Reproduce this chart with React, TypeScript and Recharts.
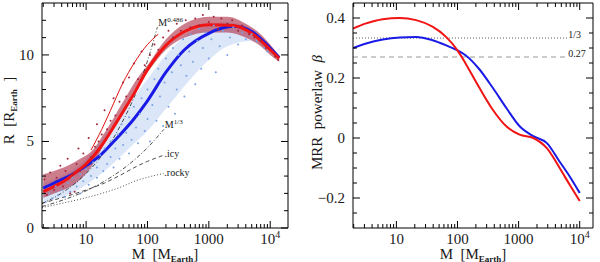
import React from 'react';
import { ComposedChart, Line, Area, Scatter, XAxis, YAxis, ReferenceDot, Label } from 'recharts';

// axis ticks
const massTicks = [2, 3, 4, 5, 6, 7, 8, 9, 10, 20, 30, 40, 50, 60, 70, 80, 90, 100, 200, 300, 400, 500, 600, 700, 800, 900, 1000, 2000, 3000, 4000, 5000, 6000, 7000, 8000, 9000, 10000];
const massMajor = [10, 100, 1000, 10000];
const radiusTicks = [0, 1, 2, 3, 4, 5, 6, 7, 8, 9, 10, 11, 12];
const radiusMajor = [0, 5, 10];
const betaTicks = [-0.25, -0.2, -0.15, -0.1, -0.05, 0, 0.05, 0.1, 0.15, 0.2, 0.25, 0.3, 0.35, 0.4];
const betaMajor = [-0.2, 0, 0.2, 0.4];

// left panel: fitted mass-radius curves [M, R]
const redFit = [[2, 2.1], [3, 2.4], [5, 2.85], [7, 3.25], [10, 3.7], [17, 4.65], [30, 6.0], [60, 7.75], [100, 9.15], [200, 10.55], [400, 11.35], [1000, 11.75], [2500, 11.7], [5000, 11.25], [10000, 10.3], [14000, 9.8]];
const blueFit = [[2, 2.3], [3, 2.6], [5, 2.95], [7, 3.25], [10, 3.6], [17, 4.2], [30, 5.1], [60, 6.3], [100, 7.35], [200, 9.0], [400, 10.3], [1000, 11.25], [2500, 11.65], [5000, 11.35], [10000, 10.4], [14000, 9.85]];
const redThin = [[12, 4.5], [18, 5.7], [25, 6.8], [40, 8.4], [60, 9.5], [100, 10.6], [150, 11.2]];

// dense part of the simulated populations [M, low R, high R]
const blueCore = [[2, 1.5, 2.6], [5, 1.9, 3.2], [10, 2.5, 4.0], [20, 3.3, 5.3], [50, 4.6, 7.2], [100, 5.6, 8.6], [200, 6.9, 10.0], [500, 8.6, 11.3], [1000, 9.7, 11.7], [2000, 10.5, 11.9], [5000, 10.8, 11.5], [10000, 10.1, 10.5], [14000, 9.8, 9.9]];
const redCore = [[2, 1.75, 3.1], [3, 2.0, 3.3], [5, 2.3, 3.6], [8, 2.8, 4.0], [12, 3.5, 4.4], [20, 4.9, 5.5], [40, 6.8, 7.3], [70, 8.3, 8.7], [100, 9.0, 9.4], [200, 10.3, 10.9], [400, 11.0, 11.8], [1000, 11.3, 12.2], [2000, 11.3, 12.2], [4000, 11.0, 11.8], [7000, 10.5, 11.2], [10000, 10.0, 10.6], [14000, 9.6, 9.95]];

// scattered planets [M, R]
const blueDots = [[2.2, 1.5], [2.5, 2.0], [2.8, 1.7], [3.2, 2.4], [3.5, 1.9], [4, 2.2], [4.5, 1.8], [5, 2.6], [5.5, 2.1], [6, 2.9], [7, 2.4], [8, 2.0], [8, 3.1], [9, 2.7], [10, 3.4], [11, 2.5], [12, 3.0], [13, 3.8], [15, 2.9], [15, 3.5], [17, 4.2], [19, 3.3], [20, 4.6], [22, 3.7], [25, 4.1], [25, 5.0], [28, 3.5], [30, 4.6], [33, 5.4], [35, 4.0], [38, 6.0], [40, 4.8], [45, 5.5], [50, 4.3], [50, 6.4], [55, 5.1], [60, 7.0], [65, 5.8], [70, 4.9], [75, 6.6], [80, 7.5], [90, 5.6], [100, 6.3], [100, 8.0], [110, 5.0], [120, 7.1], [130, 8.6], [140, 6.2], [150, 9.2], [160, 7.6], [180, 5.9], [190, 8.4], [200, 9.8], [220, 7.0], [250, 9.0], [260, 10.4], [280, 6.6], [300, 8.0], [320, 10.0], [350, 9.4], [380, 10.9], [400, 7.6], [430, 8.8], [480, 10.2], [500, 11.2], [550, 9.6], [600, 8.3], [650, 10.8], [700, 11.5], [750, 9.2], [800, 10.4], [900, 11.3], [1000, 9.8], [1100, 10.9], [1200, 11.7], [1300, 9.0], [1500, 10.5], [1700, 11.4], [2000, 10.0], [2200, 11.0], [2500, 11.6], [3000, 10.6], [3500, 11.3], [4000, 10.9], [5000, 11.2], [6000, 10.8], [8000, 10.4], [9000, 10.2]];
const redDots = [[2.1, 2.8], [2.3, 1.9], [2.6, 3.2], [3, 2.2], [3.3, 2.9], [3.8, 3.6], [4.2, 2.4], [4.6, 3.3], [5, 4.0], [5.5, 2.0], [6, 3.1], [6.5, 2.1], [7, 3.7], [7.5, 4.6], [8, 3.3], [9, 4.3], [10, 3.6], [11, 5.2], [12, 4.1], [14, 4.7], [15, 6.0], [16, 5.0], [18, 5.4], [20, 6.8], [22, 5.7], [25, 6.2], [28, 7.5], [30, 6.5], [35, 7.3], [40, 8.4], [45, 7.6], [50, 8.7], [60, 9.5], [70, 8.6], [80, 10.2], [90, 9.4], [110, 10.0], [130, 10.6], [150, 10.3], [180, 11.0], [220, 11.4], [260, 11.0], [300, 11.8], [350, 11.4], [420, 12.0], [500, 11.6], [600, 12.1], [700, 11.7], [800, 12.3], [1000, 11.9], [1200, 12.2], [1400, 11.5], [1600, 12.1], [2000, 11.8], [2400, 12.0], [3000, 11.4], [3500, 11.7], [4500, 11.2], [5500, 11.0], [7000, 10.8], [8500, 10.4], [12000, 9.9], [13500, 9.7]];

// reference relations [M, R]
const pow486 = [[1.9, 1.4], [5, 2.25], [10, 3.15], [20, 4.4], [36, 5.9], [70, 8.1], [100, 9.65], [145, 11.6]];
const pow13 = [[1.9, 1.24], [5, 1.71], [10, 2.15], [20, 2.71], [50, 3.68], [100, 4.64], [185, 5.7]];
const icy = [[1.9, 1.43], [5, 1.85], [10, 2.2], [20, 2.6], [36, 3.05], [70, 3.6], [100, 3.85], [182, 4.2]];
const rocky = [[1.9, 1.18], [5, 1.5], [10, 1.75], [20, 2.05], [36, 2.35], [67, 2.75], [100, 2.93], [182, 3.15]];

// right panel: local power-law slope [M, beta]
const redBeta = [[1.95, 0.365], [3.2, 0.382], [6, 0.396], [11.3, 0.4], [21, 0.393], [39, 0.371], [65, 0.337], [100, 0.292], [137, 0.247], [226, 0.169], [373, 0.096], [630, 0.039], [1040, 0.011], [1740, 0.0], [2900, -0.034], [4700, -0.1], [6900, -0.157], [10000, -0.21]];
const blueBeta = [[1.95, 0.3], [3.2, 0.315], [6, 0.328], [11.3, 0.335], [21, 0.337], [39, 0.326], [65, 0.309], [100, 0.292], [137, 0.275], [226, 0.23], [373, 0.169], [630, 0.1], [1040, 0.039], [1740, 0.006], [2900, -0.017], [4700, -0.079], [6900, -0.129], [10000, -0.183]];
const oneThird = [[1.95, 1 / 3], [6400, 1 / 3]];
const point27 = [[1.95, 0.27], [6400, 0.27]];

const serif = '"Liberation Serif", "DejaVu Serif", serif';
const ink = '#1a1a1a';

const pts = (a: number[][]) => a.map(([m, v]) => ({ m, v }));
const band = (a: number[][]) => a.map(([m, lo, hi]) => ({ m, v: [lo, hi] }));

const near = (list: number[], v: number) => list.some((x) => Math.abs(x - v) < 1e-9);

function massText(v: number) {
  if (v === 10000) return <>10<tspan dy={-6} fontSize={10}>4</tspan></>;
  return String(v);
}

function xTick(side: 'bottom' | 'top') {
  return (props: any) => {
    const { x, y, payload } = props;
    const major = near(massMajor, payload.value);
    const len = major ? 7 : 4;
    const dir = side === 'bottom' ? -1 : 1;
    return (
      <g>
        <line x1={x} x2={x} y1={y} y2={y + dir * len} stroke="#000" />
        {side === 'bottom' && major && (
          <text x={x} y={y + 15.5} textAnchor="middle" fontFamily={serif} fontSize={15} fill={ink}>
            {massText(payload.value)}
          </text>
        )}
      </g>
    );
  };
}

function yTick(side: 'left' | 'right', majors: number[], fmt: (v: number) => string) {
  return (props: any) => {
    const { x, y, payload } = props;
    const major = near(majors, payload.value);
    const len = major ? 7 : 4;
    const dir = side === 'left' ? 1 : -1;
    return (
      <g>
        <line x1={x} x2={x + dir * len} y1={y} y2={y} stroke="#000" />
        {side === 'left' && major && (
          <text x={x - 8} y={y + 5} textAnchor="end" fontFamily={serif} fontSize={15} fill={ink}>
            {fmt(payload.value)}
          </text>
        )}
      </g>
    );
  };
}

const fmtR = (v: number) => String(v);
const fmtB = (v: number) => (Math.abs(v) < 1e-9 ? '0' : v < 0 ? '\u2212' + Math.abs(v).toFixed(1) : v.toFixed(1));

function MassLabel({ viewBox }: any) {
  const cx = viewBox.x + viewBox.width / 2;
  return (
    <text x={cx} y={viewBox.y + 30.5} textAnchor="middle" fontFamily={serif} fontSize={15} fill={ink}>
      M{'\u00a0\u00a0'}[M<tspan fontSize={9} fontWeight="bold" dy={3}>Earth</tspan><tspan dy={-3}>]</tspan>
    </text>
  );
}

function RadiusLabel({ viewBox }: any) {
  const x = viewBox.x + viewBox.width - 28;
  const y = viewBox.y + viewBox.height / 2 - 5;
  return (
    <text transform={`translate(${x},${y}) rotate(-90)`} textAnchor="middle" fontFamily={serif} fontSize={15} fill={ink}>
      R{'\u00a0\u00a0'}[R<tspan fontSize={9} fontWeight="bold" dy={3}>Earth</tspan><tspan dy={-3}>{'\u00a0\u00a0'}]</tspan>
    </text>
  );
}

function BetaLabel({ viewBox }: any) {
  const x = viewBox.x + viewBox.width - 31;
  const y = viewBox.y + viewBox.height / 2 - 3;
  return (
    <text transform={`translate(${x},${y}) rotate(-90)`} textAnchor="middle" fontFamily={serif} fontSize={15} fill={ink}>
      MRR{'\u00a0\u00a0'}powerlaw{'\u00a0\u00a0'}<tspan fontStyle="italic">β</tspan>
    </text>
  );
}

const noteLabel = (main: string, sup?: string) => ({ viewBox }: any) => (
  <text x={viewBox.x + viewBox.width / 2} y={viewBox.y + viewBox.height / 2 + 3} fontFamily={serif} fontSize={10} fill={ink}>
    {main}
    {sup && <tspan fontSize={7} dy={-4}>{sup}</tspan>}
  </text>
);

const dot = (fill: string) => (p: any) => <circle cx={p.cx} cy={p.cy} r={1} fill={fill} />;

const axisCommon = {
  type: 'number' as const,
  allowDataOverflow: true,
  interval: 0 as const,
  tickSize: 0,
  tickMargin: 0,
  tickLine: false,
  axisLine: { stroke: '#000', strokeWidth: 1 },
};

function MassRadius() {
  const dom: [number, number] = [1.91, 19500];
  return (
    <ComposedChart width={300} height={262} margin={{ top: 0, right: 0, bottom: 0, left: 0 }}>
      <XAxis xAxisId="b" dataKey="m" scale="log" domain={dom} ticks={massTicks} height={34} tick={xTick('bottom')} {...axisCommon}>
        <Label content={MassLabel} />
      </XAxis>
      <XAxis xAxisId="t" orientation="top" dataKey="m" scale="log" domain={dom} ticks={massTicks} height={3} tick={xTick('top')} {...axisCommon} />
      <YAxis yAxisId="l" domain={[0, 13]} ticks={radiusTicks} width={42} tick={yTick('left', radiusMajor, fmtR)} {...axisCommon}>
        <Label content={RadiusLabel} />
      </YAxis>
      <YAxis yAxisId="r" orientation="right" domain={[0, 13]} ticks={radiusTicks} width={12} tick={yTick('right', radiusMajor, fmtR)} {...axisCommon} />

      <Area xAxisId="b" yAxisId="l" data={band(blueCore)} dataKey="v" type="monotone" stroke="none" fill="#a9c4ee" fillOpacity={0.42} isAnimationActive={false} />
      <Scatter xAxisId="b" yAxisId="l" data={pts(blueDots)} dataKey="v" shape={dot('#7aa2e4')} isAnimationActive={false} />
      <Area xAxisId="b" yAxisId="l" data={band(redCore)} dataKey="v" type="monotone" stroke="none" fill="#a8203a" fillOpacity={0.58} isAnimationActive={false} />
      <Scatter xAxisId="b" yAxisId="l" data={pts(redDots)} dataKey="v" shape={dot('#a3243c')} isAnimationActive={false} />

      <Line xAxisId="b" yAxisId="l" data={pts(pow486)} dataKey="v" type="monotone" stroke="#222" strokeWidth={0.8} strokeDasharray="4 2 1 2" dot={false} isAnimationActive={false} />
      <Line xAxisId="b" yAxisId="l" data={pts(pow13)} dataKey="v" type="monotone" stroke="#222" strokeWidth={0.8} strokeDasharray="4 2 1 2" dot={false} isAnimationActive={false} />
      <Line xAxisId="b" yAxisId="l" data={pts(icy)} dataKey="v" type="monotone" stroke="#222" strokeWidth={0.8} strokeDasharray="4 3" dot={false} isAnimationActive={false} />
      <Line xAxisId="b" yAxisId="l" data={pts(rocky)} dataKey="v" type="monotone" stroke="#222" strokeWidth={0.8} strokeDasharray="1 2" dot={false} isAnimationActive={false} />

      <Line xAxisId="b" yAxisId="l" data={pts(redThin)} dataKey="v" type="monotone" stroke="#e01010" strokeWidth={1} dot={false} isAnimationActive={false} />
      <Line xAxisId="b" yAxisId="l" data={pts(blueFit)} dataKey="v" type="monotone" stroke="#1a1ae6" strokeWidth={3} dot={false} isAnimationActive={false} />
      <Line xAxisId="b" yAxisId="l" data={pts(redFit)} dataKey="v" type="monotone" stroke="#f01414" strokeWidth={3} dot={false} isAnimationActive={false} />

      <ReferenceDot xAxisId="b" yAxisId="l" x={150} y={11.85} r={0} label={noteLabel('M', '0.486')} />
      <ReferenceDot xAxisId="b" yAxisId="l" x={192} y={5.95} r={0} label={noteLabel('M', '1/3')} />
      <ReferenceDot xAxisId="b" yAxisId="l" x={190} y={4.3} r={0} label={noteLabel('.icy')} />
      <ReferenceDot xAxisId="b" yAxisId="l" x={188} y={3.2} r={0} label={noteLabel('.rocky')} />
    </ComposedChart>
  );
}

function SlopePanel() {
  const dom: [number, number] = [1.95, 16500];
  return (
    <ComposedChart width={300} height={262} margin={{ top: 0, right: 0, bottom: 0, left: 0 }}>
      <XAxis xAxisId="b" dataKey="m" scale="log" domain={dom} ticks={massTicks} height={34} tick={xTick('bottom')} {...axisCommon}>
        <Label content={MassLabel} />
      </XAxis>
      <XAxis xAxisId="t" orientation="top" dataKey="m" scale="log" domain={dom} ticks={massTicks} height={3} tick={xTick('top')} {...axisCommon} />
      <YAxis yAxisId="l" domain={[-0.3, 0.45]} ticks={betaTicks} width={53} tick={yTick('left', betaMajor, fmtB)} {...axisCommon}>
        <Label content={BetaLabel} />
      </YAxis>
      <YAxis yAxisId="r" orientation="right" domain={[-0.3, 0.45]} ticks={betaTicks} width={7} tick={yTick('right', betaMajor, fmtB)} {...axisCommon} />

      <Line xAxisId="b" yAxisId="l" data={pts(oneThird)} dataKey="v" stroke="#333" strokeWidth={0.8} strokeDasharray="1 2" dot={false} isAnimationActive={false} />
      <Line xAxisId="b" yAxisId="l" data={pts(point27)} dataKey="v" stroke="#999" strokeWidth={1} strokeDasharray="5 4" dot={false} isAnimationActive={false} />
      <Line xAxisId="b" yAxisId="l" data={pts(blueBeta)} dataKey="v" type="monotone" stroke="#1a1ae6" strokeWidth={2} dot={false} isAnimationActive={false} />
      <Line xAxisId="b" yAxisId="l" data={pts(redBeta)} dataKey="v" type="monotone" stroke="#f01414" strokeWidth={2} dot={false} isAnimationActive={false} />

      <ReferenceDot xAxisId="b" yAxisId="l" x={6500} y={0.343} r={0} label={noteLabel('1/3')} />
      <ReferenceDot xAxisId="b" yAxisId="l" x={6500} y={0.281} r={0} label={noteLabel('0.27')} />
    </ComposedChart>
  );
}

export default function App() {
  return (
    <div style={{ position: 'absolute', left: 0, top: 0, width: 600, height: 262, background: '#fff', display: 'flex' }}>
      <MassRadius />
      <SlopePanel />
    </div>
  );
}
